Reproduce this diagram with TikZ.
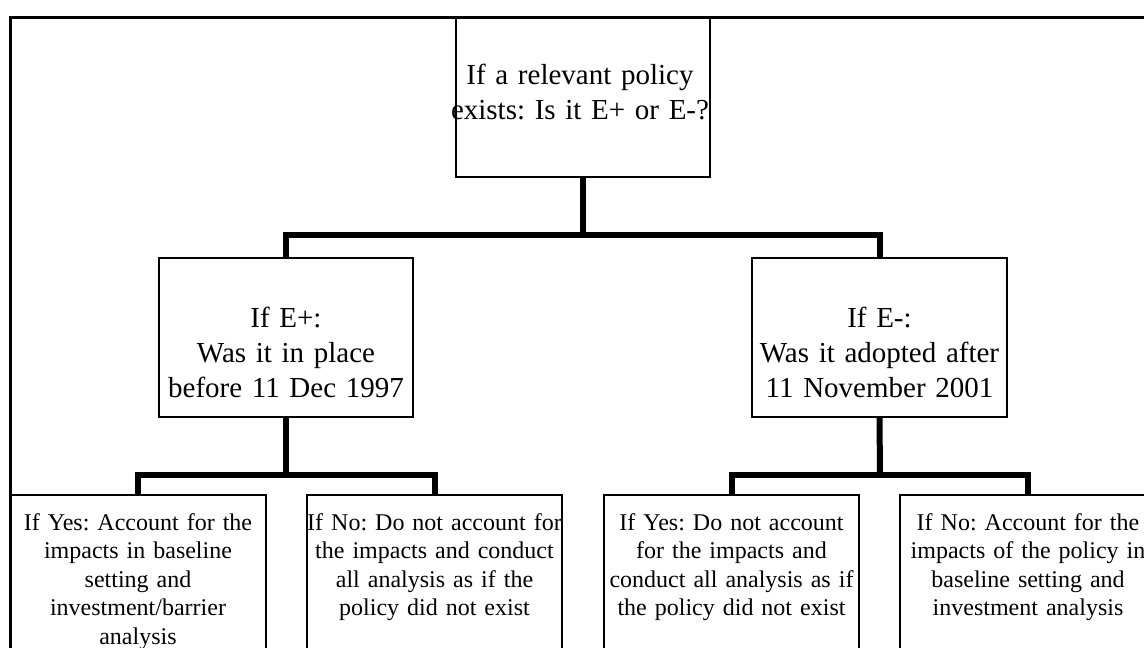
\documentclass[tikz,border=0pt]{standalone}
\usepackage{fontspec}
\setmainfont{Liberation Serif}
\frenchspacing
\begin{document}
\begin{tikzpicture}[x=1pt,y=-1pt,
  box/.style={draw=black, line width=1.3pt, inner sep=0pt, outer sep=0pt},
  conn/.style={line width=6pt, line join=miter},
  framel/.style={line width=3pt},
  bigtxt/.style={text width=330pt, align=center, inner sep=0pt, anchor=base,
    font=\fontsize{29}{35}\selectfont},
  smalltxt/.style={text width=300pt, align=center, inner sep=0pt, anchor=base,
    font=\fontsize{24}{28.5}\selectfont},
]
\useasboundingbox (0,0) rectangle (1144,648);
\fill[white] (0,0) rectangle (1144,648);
\clip (0,0) rectangle (1144,648);

% outer frame
\coordinate (fbl) at (10.5,660);
\coordinate (ftl) at (10.5,17);
\coordinate (ftr) at (1160,17);
\draw[framel] (fbl) -- (ftl) -- (ftr);

% boxes
\node[box, minimum width=254pt, minimum height=160pt] (top) at (583,97) {};
\node[box, minimum width=254pt, minimum height=159pt] (ml) at (286,337.5) {};
\node[box, minimum width=255pt, minimum height=159pt] (mr) at (879.5,337.5) {};
\node[box, minimum width=256pt, minimum height=165pt] (b1) at (138,577.5) {};
\node[box, minimum width=255pt, minimum height=165pt] (b2) at (434.5,577.5) {};
\node[box, minimum width=255pt, minimum height=165pt] (b3) at (731.5,577.5) {};
\node[box, minimum width=256pt, minimum height=165pt] (b4) at (1028,577.5) {};

% texts
\node[bigtxt] (ttop) at (580,84) {If a relevant policy\\exists: Is it E+ or E-?};
\node[bigtxt] (tml) at (286,327) {If E+:\\Was it in place\\before 11 Dec 1997};
\node[bigtxt] (tmr) at (879.5,327) {If E-:\\Was it adopted after\\11 November 2001};
\node[smalltxt] (tb1) at (138,530) {If Yes: Account for the\\impacts in baseline\\setting and\\investment/barrier\\analysis};
\node[smalltxt] (tb2) at (434.5,530) {If No: Do not account for\\the impacts and conduct\\all analysis as if the\\policy did not exist};
\node[smalltxt] (tb3) at (731.5,530) {If Yes: Do not account\\for the impacts and\\conduct all analysis as if\\the policy did not exist};
\node[smalltxt] (tb4) at (1028,530) {If No: Account for the\\impacts of the policy in\\baseline setting and\\investment analysis};

% connectors
\coordinate (j1) at (583,235);
\coordinate (j2) at (286,475);
\coordinate (j3) at (880,475);
\draw[conn] (top.south) -- (j1);
\draw[conn] (ml.north) |- (j1) -| (mr.north);
\draw[conn] (ml.south) -- (j2);
\draw[conn] (b1.north) |- (j2) -| (b2.north);
\draw[conn] (mr.south) -- (j3);
\draw[conn] (b3.north) |- (j3) -| (b4.north);
\end{tikzpicture}
\end{document}
